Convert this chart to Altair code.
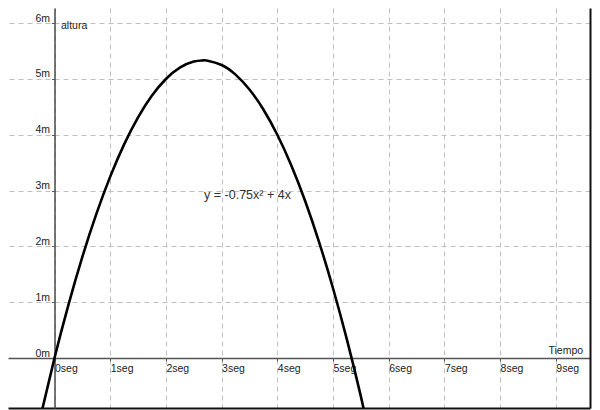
import altair as alt
import pandas as pd

# --- data ---
curve_x = [-0.25, 0.0, 0.25, 0.5, 0.75, 1.0, 1.25, 1.5, 1.75, 2.0, 2.25, 2.5, 2.667,
           2.75, 3.0, 3.25, 3.5, 3.75, 4.0, 4.25, 4.5, 4.75, 5.0, 5.25, 5.5, 5.75]
curve_y = [-1.047, 0.0, 0.953, 1.8125, 2.578, 3.25, 3.828, 4.3125, 4.703, 5.0, 5.203, 5.3125, 5.333,
           5.328, 5.25, 5.078, 4.8125, 4.453, 4.0, 3.453, 2.8125, 2.078, 1.25, 0.328, -0.6875, -1.797]

x_ticks = [0, 1, 2, 3, 4, 5, 6, 7, 8, 9]
y_ticks = [0, 1, 2, 3, 4, 5, 6]

eq_text = ["y = -0.75x² + 4x"]
eq_x = [3.465]
eq_y = [2.92]

x_domain = [-0.835, 9.614]
y_domain = [-0.896, 6.272]

FONT = "Liberation Sans"

curve_df = pd.DataFrame({"x": curve_x, "y": curve_y})
eq_df = pd.DataFrame({"x": eq_x, "y": eq_y, "t": eq_text})

xs = alt.Scale(domain=x_domain, nice=False, zero=False)
ys = alt.Scale(domain=y_domain, nice=False, zero=False)

# Layer A: dashed grid + dark frame on right / bottom, carrying the equation label
grid_layer = alt.Chart(eq_df).mark_text(
    font=FONT, fontSize=12.5, color="#333333", align="center", baseline="middle"
).encode(
    x=alt.X("x:Q", scale=xs, axis=alt.Axis(
        orient="bottom", values=x_ticks, grid=True, gridDash=[5, 4], gridColor="#c0c0c0",
        gridWidth=1, ticks=False, labels=False, title=None, domain=True,
        domainColor="#111111", domainWidth=2)),
    y=alt.Y("y:Q", scale=ys, axis=alt.Axis(
        orient="right", values=y_ticks, grid=True, gridDash=[5, 4], gridColor="#c0c0c0",
        gridWidth=1, ticks=False, labels=False, title=None, domain=True,
        domainColor="#111111", domainWidth=2)),
    text="t:N",
)

# Layer B: the curve, with axes crossing at the origin
curve_layer = alt.Chart(curve_df).mark_line(
    color="black", strokeWidth=2.6, interpolate="natural", clip=True
).encode(
    x=alt.X("x:Q", scale=xs, axis=alt.Axis(
        orient="bottom", offset=-50, values=x_ticks, grid=False,
        labelExpr="datum.value + 'seg'", labelAlign="left", labelBaseline="top",
        labelPadding=2, labelFont=FONT, labelFontSize=10.5, labelColor="#222222",
        labelOverlap=False, labelFlush=False,
        tickSize=3, tickColor="#555555", domainColor="#555555", domainWidth=1.6,
        title="Tiempo", titleFont=FONT, titleFontSize=10.5, titleFontWeight="normal",
        titleColor="#222222", titleX=540, titleY=-5, titleAlign="left",
        titleBaseline="alphabetic", titleAngle=0)),
    y=alt.Y("y:Q", scale=ys, axis=alt.Axis(
        orient="left", offset=-46.5, values=y_ticks, grid=False,
        labelExpr="datum.value + 'm'", labelAlign="right", labelBaseline="bottom",
        labelPadding=2, labelFont=FONT, labelFontSize=10.5, labelColor="#222222",
        labelOverlap=False, labelFlush=False,
        tickSize=3, tickColor="#555555", domainColor="#555555", domainWidth=1.6,
        title="altura", titleFont=FONT, titleFontSize=10.5, titleFontWeight="normal",
        titleColor="#222222", titleX=6, titleY=20, titleAlign="left",
        titleBaseline="alphabetic", titleAngle=0)),
)

chart = alt.layer(grid_layer, curve_layer).resolve_axis(
    x="independent", y="independent"
).properties(
    width=582, height=400,
    padding={"left": 0, "top": 0, "right": 2, "bottom": 2},
    autosize=alt.AutoSizeParams(type="none"),
    background="white",
).configure_view(stroke=None)

chart.save("out.html", embed_options={"renderer": "svg", "actions": False})
